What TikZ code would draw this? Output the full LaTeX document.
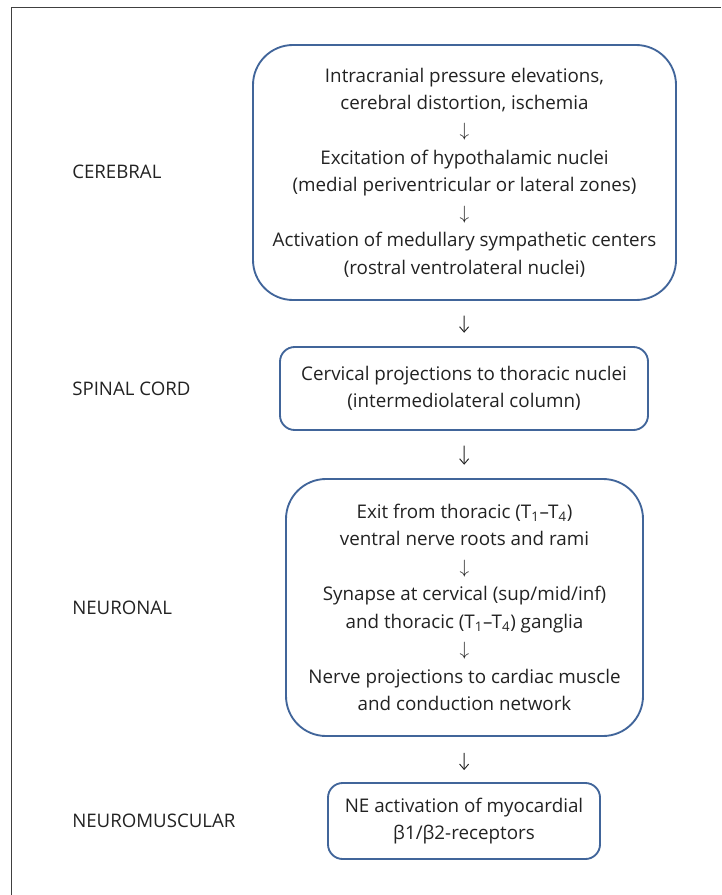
\documentclass[tikz,border=0pt]{standalone}
\usepackage{fontspec}
\setmainfont{Open Sans}
\usetikzlibrary{arrows.meta, positioning}
\definecolor{ncBox}{HTML}{41659A}
\definecolor{ncText}{HTML}{222222}
\definecolor{ncFrame}{HTML}{404040}
\newcommand{\dnarrow}{$\downarrow$}
\tikzset{
  stage/.style={
    draw=ncBox, line width=1.4pt, align=center, inner sep=0pt,
    text=ncText, font=\fontsize{14.1}{20.6}\selectfont
  },
  bigstage/.style={stage, rounded corners=30pt},
  smallstage/.style={stage, rounded corners=11pt},
  level/.style={anchor=west, text=ncText, inner sep=0pt, font=\fontsize{14}{15}\selectfont},
  stepflow/.style={-{Straight Barb[length=1.4mm, width=2.4mm]}, line width=0.7pt, ncText},
  frameline/.style={ncFrame, line width=0.8pt}
}

\begin{document}
\begin{tikzpicture}[x=0.75pt, y=-0.75pt]
  \useasboundingbox (0,0) rectangle (721,895);
  \draw[frameline] (11.5,895) -- (11.5,7.5) -- (721,7.5);

  % stages
  \node[bigstage, minimum width=423*0.75pt, minimum height=255*0.75pt] (cereb) at (464.5,172.5)
    {Intracranial pressure elevations,\\ cerebral distortion, ischemia\\ \dnarrow\\
     Excitation of hypothalamic nuclei\\ (medial periventricular or lateral zones)\\ \dnarrow\\
     Activation of medullary sympathetic centers\\ (rostral ventrolateral nuclei)};
  \node[smallstage, minimum width=368*0.75pt, minimum height=83*0.75pt] (spinal) at (464,388.5)
    {Cervical projections to thoracic nuclei\\ (intermediolateral column)};
  \node[bigstage, minimum width=357*0.75pt, minimum height=257*0.75pt] (neuro) at (464.5,607.5)
    {Exit from thoracic (T\textsubscript{1}--T\textsubscript{4})\\ ventral nerve roots and rami\\ \dnarrow\\
     Synapse at cervical (sup/mid/inf)\\ and thoracic (T\textsubscript{1}--T\textsubscript{4}) ganglia\\ \dnarrow\\
     Nerve projections to cardiac muscle\\ and conduction network};
  \node[smallstage, minimum width=272*0.75pt, minimum height=76*0.75pt] (muscle) at (464,821)
    {NE activation of myocardial\\ β1/β2-receptors};

  % levels
  \node[level] (lvcereb) at (72,172) {CEREBRAL};
  \node[level] (lvspinal) at (72,388.5) {SPINAL CORD};
  \node[level] (lvneuro) at (72,607.5) {NEURONAL};
  \node[level] (lvmuscle) at (72,821) {NEUROMUSCULAR};

  % flow between stages
  \draw[stepflow, shorten <=11pt, shorten >=10pt] (cereb) -- (spinal);
  \draw[stepflow, shorten <=11pt, shorten >=10pt] (spinal) -- (neuro);
  \draw[stepflow, shorten <=12pt, shorten >=9pt] (neuro) -- (muscle);
\end{tikzpicture}
\end{document}
